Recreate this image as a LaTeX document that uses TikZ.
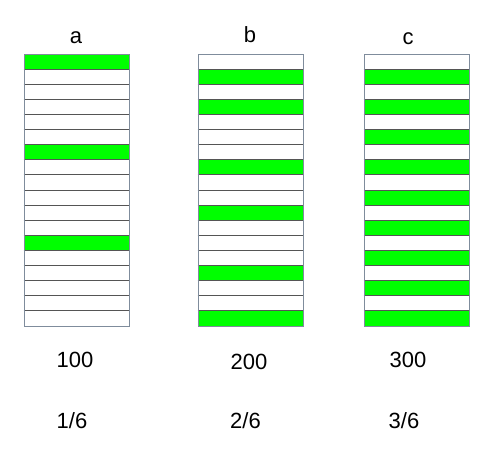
\documentclass[tikz,border=0pt]{standalone}
\usepackage{fontspec}
\setmainfont{Liberation Sans}
\definecolor{bargreen}{HTML}{00FF00}
\definecolor{frame}{HTML}{7F8C9C}
\definecolor{rule}{HTML}{555555}
\begin{document}
\begin{tikzpicture}[x=1pt,y=-1pt,
  lbl/.style={font=\fontsize{22}{26}\selectfont, inner sep=0pt, anchor=base},
  greenrow/.style={fill=bargreen},
  rowline/.style={draw=rule, line width=1pt},
  framebox/.style={draw=frame, line width=1pt}]
\useasboundingbox (0,0) rectangle (493,455);
\def\rh{15.111}
% column macro: #1 left x, #2 right x, #3 list of green rows
\newcommand\stripecol[4]{%
  \foreach \r in {#3} {\fill[greenrow] (#1,{54+\r*\rh}) rectangle (#2,{54+(\r+1)*\rh});}
  \foreach \r in {1,...,17} {\draw[rowline] (#1,{54+\r*\rh}) -- (#2,{54+\r*\rh});}
  \node[framebox, inner sep=0pt, minimum width={#2-#1}, minimum height={18*\rh}, anchor=north west] (#4) at (#1,54) {};
}
\stripecol{23.5}{129}{0,6,12}{colA}
\stripecol{197.5}{302.5}{1,3,7,10,14,17}{colB}
\stripecol{363.5}{469}{1,3,5,7,9,11,13,15,17}{colC}
\node[lbl] (la) at (76,43) {a};
\node[lbl] (lb) at (250,42) {b};
\node[lbl] (lc) at (408,44) {c};
\node[lbl] (na) at (75,367) {100};
\node[lbl] (nb) at (249,369) {200};
\node[lbl] (nc) at (408,367) {300};
\node[lbl] (fa) at (72,428) {1/6};
\node[lbl] (fb) at (245.5,428) {2/6};
\node[lbl] (fc) at (404,428) {3/6};
\end{tikzpicture}
\end{document}
